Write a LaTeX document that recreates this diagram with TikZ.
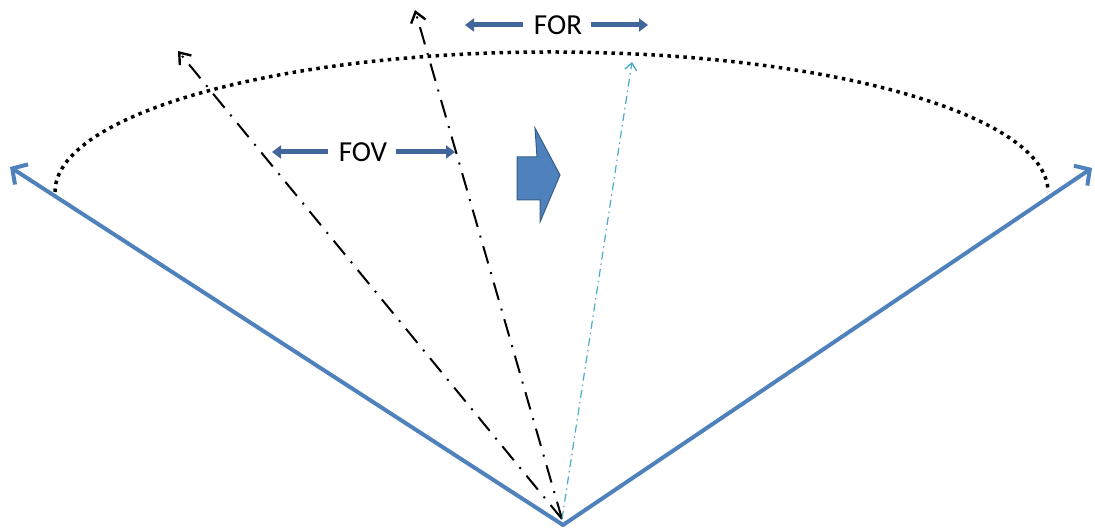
\documentclass[tikz,border=0pt]{standalone}
\usepackage{fontspec}
\setmainfont{Carlito}
\usetikzlibrary{arrows.meta}
\definecolor{rayblue}{RGB}{79,129,189}
\definecolor{edgeblue}{RGB}{56,93,138}
\definecolor{labelblue}{RGB}{64,102,156}
\definecolor{scancyan}{RGB}{75,172,198}
\tikzset{
  x=1pt, y=1pt,
  boundary/.style={draw=rayblue, line width=4pt, line cap=round,
    -{Straight Barb[length=11pt,width=24pt,line width=4pt]}},
  sightline/.style={draw=black, line width=2pt,
    dash pattern=on 18pt off 9pt on 2pt off 9pt,
    -{Straight Barb[length=10pt,width=15pt,line width=2.4pt]}},
  scanline/.style={draw=scancyan, line width=1.2pt,
    dash pattern=on 8pt off 4pt on 1.5pt off 4pt,
    -{Straight Barb[length=7pt,width=12pt,line width=1.4pt]}},
  rangearc/.style={draw=black, line width=3.5pt, dash pattern=on 3.5pt off 4.5pt},
  spanarrow/.style={draw=labelblue, line width=5pt,
    -{Triangle[length=9pt,width=13pt]}},
  spanlabel/.style={font=\fontsize{29}{32}\selectfont, inner sep=0pt, text=black},
  turnarrow/.style={fill=rayblue, draw=edgeblue, line width=1pt, line join=miter}
}
\begin{document}
\begin{tikzpicture}
  \useasboundingbox (0,0) rectangle (1095,529);

  % vertex and end points
  \coordinate (apex) at (563,4);
  \coordinate (origin) at (562,10);
  \coordinate (leftend) at (10,362);
  \coordinate (rightend) at (1092,361);
  \coordinate (sightA) at (178,478);
  \coordinate (sightB) at (415,519);
  \coordinate (scan) at (632,467);

  % range arc
  \draw[rangearc] (55,337) arc[start angle=180, end angle=0, x radius=496.5, y radius=140];

  % outer boundaries of the field of regard
  \draw[boundary] (apex) -- (leftend);
  \draw[boundary] (apex) -- (rightend);

  % lines of sight
  \draw[sightline] (origin) -- (sightA);
  \draw[sightline] (origin) -- (sightB);
  \draw[scanline] (origin) -- (scan);

  % labels with span arrows
  \node[spanlabel] (for) at (558,504) {FOR};
  \coordinate (forL) at (465,504);
  \coordinate (forR) at (648,504);
  \draw[spanarrow] ([xshift=-11pt]for.west) -- (forL);
  \draw[spanarrow] ([xshift=9pt]for.east) -- (forR);

  \node[spanlabel] (fov) at (363,377) {FOV};
  \coordinate (fovL) at (272,377);
  \coordinate (fovR) at (455,377);
  \draw[spanarrow] ([xshift=-11pt]fov.west) -- (fovL);
  \draw[spanarrow] ([xshift=9pt]fov.east) -- (fovR);

  % direction of sweep
  \draw[turnarrow] (517,372) -- (537,372) -- (535,401) -- (560,354)
    -- (540,307) -- (540,329) -- (517,329) -- cycle;
\end{tikzpicture}
\end{document}
